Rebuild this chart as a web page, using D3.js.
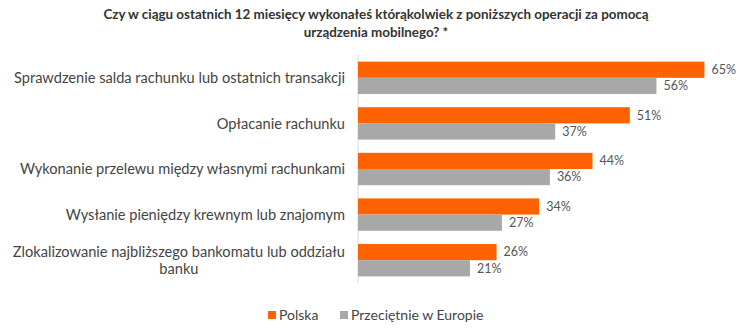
<!DOCTYPE html>
<html>
<head>
<meta charset="utf-8">
<script src="https://cdn.jsdelivr.net/npm/d3@7"></script>
<style>
    body { margin: 0; background: #fff; }
    text { font-family: Lato, "Open Sans", sans-serif; }
</style>
</head>
<body>
<div id="chart"></div>
<script>
// Chart data
const categories = [
    ['Sprawdzenie salda rachunku lub ostatnich transakcji'],
    ['Opłacanie rachunku'],
    ['Wykonanie przelewu między własnymi rachunkami'],
    ['Wysłanie pieniędzy krewnym lub znajomym'],
    ['Zlokalizowanie najbliższego bankomatu lub oddziału', 'banku']
]
const seriesNames = ['Polska', 'Przeciętnie w Europie']
const polska = [65, 51, 44, 34, 26]
const europa = [56, 37, 36, 27, 21]
const titleLines = [
    'Czy w ciągu ostatnich 12 miesięcy wykonałeś którąkolwiek z poniższych operacji za pomocą',
    'urządzenia mobilnego? *'
]

const width = 745, height = 332
const colors = ['#FF6200', '#A8A8A8']

const svg = d3.select('#chart').append('svg').attr('width', width).attr('height', height)

// Title
svg.append('g').selectAll('text').data(titleLines).join('text')
    .attr('x', 376).attr('y', (d, i) => 19 + i * 18)
    .attr('text-anchor', 'middle').attr('font-size', 13.4).attr('font-weight', 'bold')
    .attr('fill', '#333').text(d => d)

const xAxisStart = 358
const x = d3.scaleLinear().domain([0, 100]).range([xAxisStart, xAxisStart + 533])
const y = d3.scaleBand().domain(d3.range(categories.length)).range([55, 283]).paddingInner(0.29).paddingOuter(0.145)
const sub = d3.scaleBand().domain([0, 1]).range([0, y.bandwidth()])

// Vertical axis line
svg.append('line').attr('x1', xAxisStart).attr('x2', xAxisStart).attr('y1', 55).attr('y2', 283)
    .style('stroke', '#d9d9d9').style('stroke-width', 1)

const series = [polska, europa]
series.forEach((values, s) => {
    const g = svg.append('g')
    g.selectAll('rect').data(values).join('rect')
        .attr('x', x(0)).attr('y', (d, i) => y(i) + sub(s))
        .attr('width', d => x(d) - x(0)).attr('height', sub.bandwidth())
        .style('fill', colors[s])
    g.selectAll('text').data(values).join('text')
        .attr('x', d => x(d) + 7).attr('y', (d, i) => y(i) + sub(s) + sub.bandwidth() / 2)
        .attr('dy', '0.35em').attr('font-size', 12.5).attr('fill', '#555')
        .text(d => d + '%')
})

// Category labels (second line centred under the first)
const labels = svg.append('g').selectAll('text').data(categories).join('text')
    .attr('text-anchor', 'end').attr('font-size', 14.6).attr('fill', '#444')
    .attr('transform', (d, i) => 'translate(345, ' + (y(i) + y.bandwidth() / 2 - (d.length - 1) * 8.5) + ')')
labels.each(function (d) {
    const t = d3.select(this)
    const first = t.append('tspan').attr('x', 0).attr('dy', '0.35em').text(d[0])
    const w = first.node().getComputedTextLength()
    d.slice(1).forEach(line => {
        t.append('tspan').attr('x', -w / 2).attr('text-anchor', 'middle').attr('dy', 17).text(line)
    })
})

// Legend
const legendX = [268, 340]
const legend = svg.append('g').selectAll('g').data(seriesNames).join('g')
    .attr('transform', (d, i) => 'translate(' + legendX[i] + ', 315)')
legend.append('rect').attr('x', 0).attr('y', -4).attr('width', 8).attr('height', 8).style('fill', (d, i) => colors[i])
legend.append('text').attr('x', 11).attr('dy', '0.35em').attr('font-size', 14).attr('fill', '#444').text(d => d)
</script>
</body>
</html>
